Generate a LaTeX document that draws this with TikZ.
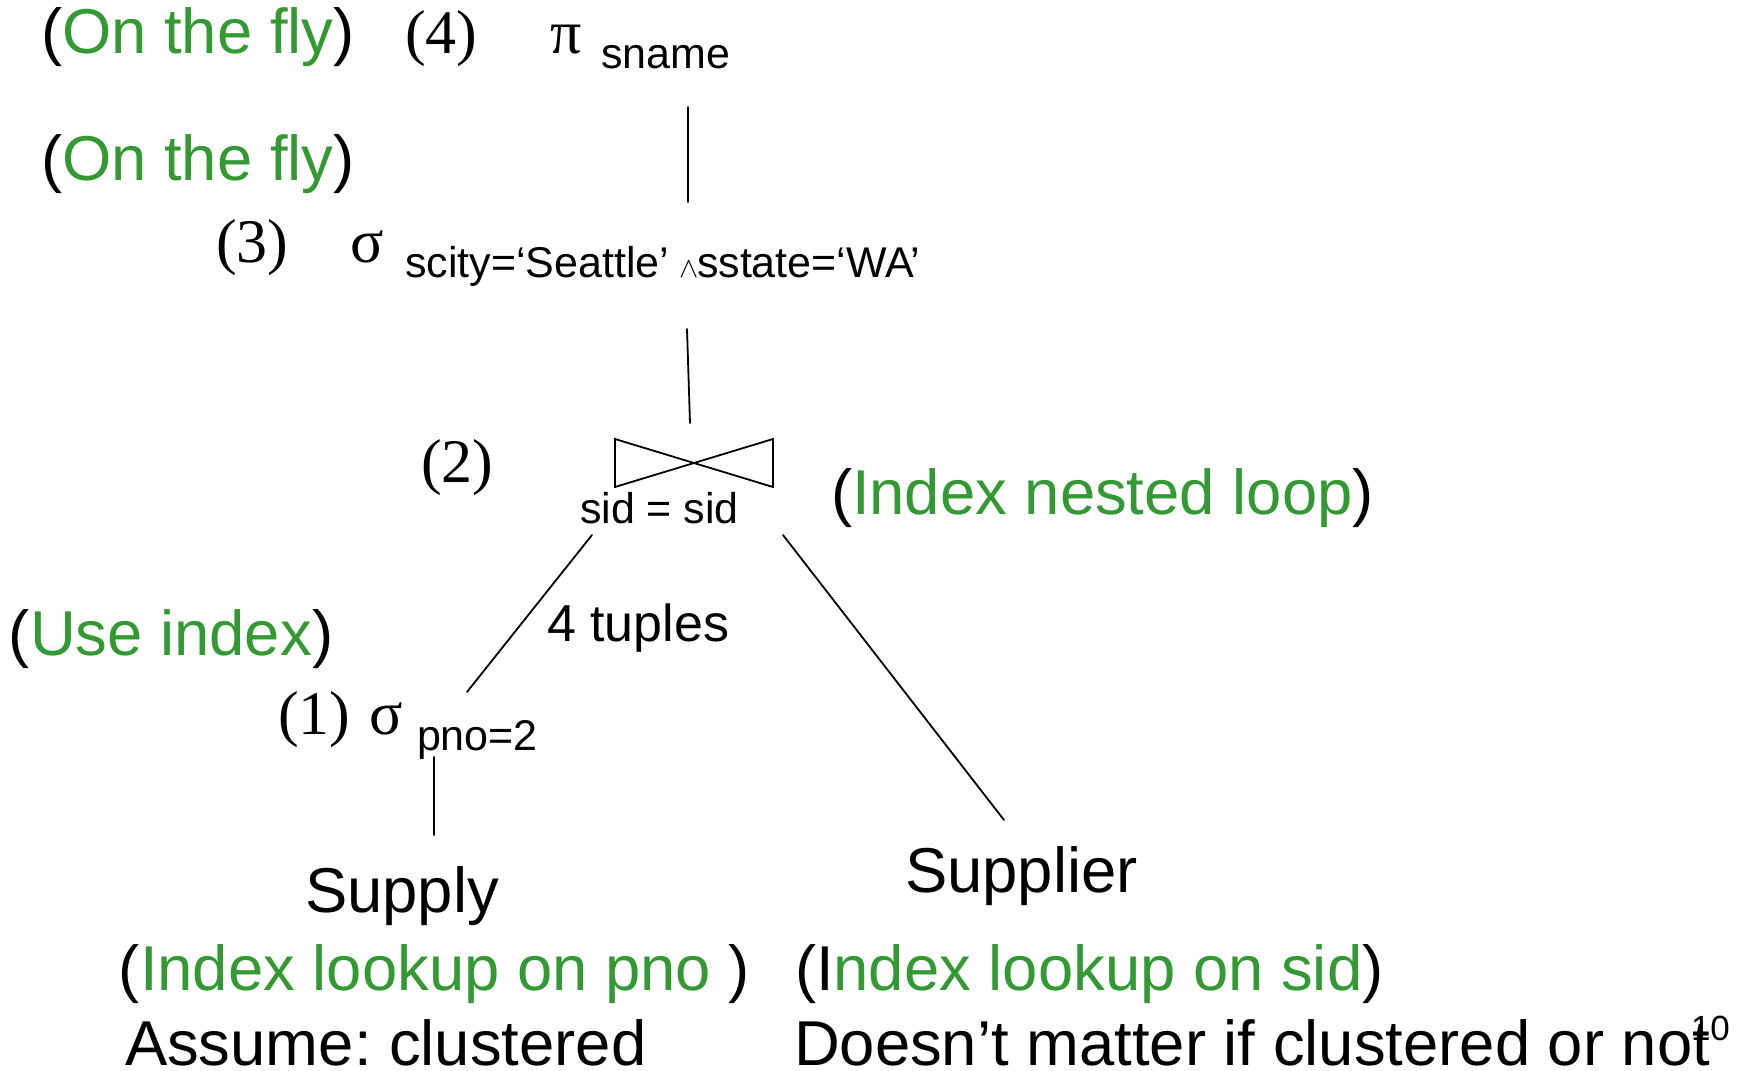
\documentclass[tikz,border=0pt]{standalone}
\usepackage{fontspec}
\setmainfont{Liberation Sans}
\newfontfamily\serifrm{Liberation Serif}
\definecolor{notegreen}{RGB}{51,153,51}
\newcommand{\gr}[1]{\textcolor{notegreen}{#1}}
\newcommand{\andsym}{{\fontsize{15}{15}\selectfont\kern-0.8pt$\wedge$\kern-0.8pt}}
\frenchspacing

\begin{document}
\begin{tikzpicture}[x=0.5pt,y=-0.5pt,
  every node/.style={inner sep=0pt,outer sep=0pt,anchor=base west},
  big/.style={font=\fontsize{31.7}{36}\selectfont},
  mid/.style={font=\fontsize{26}{30}\selectfont},
  sub/.style={font=\fontsize{21.5}{24}\selectfont},
  num/.style={font=\serifrm\fontsize{31}{34}\selectfont},
  greek/.style={font=\serifrm\fontsize{31}{34}\selectfont},
  pageno/.style={font=\fontsize{17.5}{20}\selectfont},
  link/.style={line width=0.9pt, line cap=round, line join=miter}]
\useasboundingbox (0,0) rectangle (1737,1071);

% ---- annotations (method used for each operator)
\node[big] (fly4)   at (41,53)   {(\gr{On the fly})};
\node[big] (fly3)   at (41,180)  {(\gr{On the fly})};
\node[big] (inl)    at (831,514) {(\gr{Index nested loop})};
\node[big] (useidx) at (9,655)   {(\gr{Use index})};
\node[big] (lkpno)  at (119,990) {(\gr{Index lookup on pno} )};
\node[big] (clus)   at (125,1065){Assume: clustered};
\node[big] (lksid)  at (795,990) {(I\gr{ndex lookup on sid})};
\node[big] (nomat)  at (794,1065){Doesn’t matter if clustered or not};
\node[pageno] (pg)  at (1691,1040) {10};

% ---- step numbers
\node[num] (n4) at (405,53)  {(4)};
\node[num] (n3) at (216,262) {(3)};
\node[num] (n2) at (421,482) {(2)};
\node[num] (n1) at (278,734) {(1)};

% ---- operators
\node[greek] (proj)    at (550,53)  {π};
\node[sub]   (projsub) at (601,68)  {sname};
\node[greek] (sel3)    at (350,262) {σ};
\node[sub]   (sel3sub) at (405,277) {scity=‘Seattle’ \andsym sstate=‘WA’};
\node[sub]   (joinsub) at (580,523) {sid = sid};
\node[greek] (sel1)    at (369,734) {σ};
\node[sub]   (sel1sub) at (417,750) {pno=2};
\node[mid]   (card)    at (547,641) {4 tuples};

% ---- relations
\node[big] (supply)   at (305,912) {Supply};
\node[big] (supplier) at (905,892) {Supplier};

% ---- join symbol
\draw[link] (615,439) -- (773,487) -- (773,439) -- (615,487) -- cycle;
\coordinate (join) at (694,463);

% ---- tree edges
\coordinate (projB)  at (688,107);
\coordinate (sel3T)  at (688,202);
\coordinate (sel3B)  at (687,329);
\coordinate (joinT)  at (690,423);
\coordinate (joinBL) at (592,535);
\coordinate (sel1T)  at (467,692);
\coordinate (joinBR) at (783,535);
\coordinate (suprT)  at (1004,820);
\coordinate (sel1B)  at (434,757);
\coordinate (supT)   at (434,835);

\draw[link] (projB)  -- (sel3T);
\draw[link] (sel3B)  -- (joinT);
\draw[link] (joinBL) -- (sel1T);
\draw[link] (joinBR) -- (suprT);
\draw[link] (sel1B)  -- (supT);
\end{tikzpicture}
\end{document}
